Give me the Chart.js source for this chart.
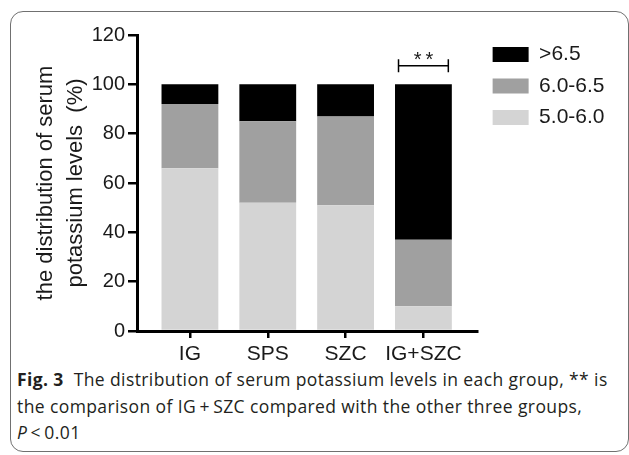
<!DOCTYPE html>
<html>
<head>
<meta charset="utf-8">
<script src="https://cdn.jsdelivr.net/npm/chart.js@4.4.0/dist/chart.umd.min.js"></script>
<style>
  html, body { margin: 0; padding: 0; background: #fff; }
  body { width: 629px; height: 455px; position: relative; overflow: hidden; }
  #frame { position: absolute; left: 10px; top: 11px; width: 617px; height: 439px; border: 1px solid #707070; border-radius: 13px; }
  #wrap { position: absolute; left: 0; top: 0; width: 629px; height: 365px; }
  #caption { position: absolute; left: 17px; top: 366px; font-family: 'Open Sans', sans-serif; font-size: 17.5px; letter-spacing: 0.4px; line-height: 26.5px; color: #231f20; white-space: nowrap; }
</style>
</head>
<body>
<div id="frame"></div>
<div id="wrap"><canvas id="myChart" width="629" height="365"></canvas></div>
<div id="caption"><b>Fig. 3</b>&nbsp; The distribution of serum potassium levels in each group, ** is<br>the comparison of IG&thinsp;+&thinsp;SZC compared with the other three groups,<br><i>P</i>&thinsp;&lt;&thinsp;0.01</div>
<script>
const groups = ['IG', 'SPS', 'SZC', 'IG+SZC'];
const groupPositions = [1, 2, 3, 4];
const level50to60 = [66, 52, 51, 10];
const level60to65 = [26, 33, 36, 27];
const levelAbove65 = [8, 15, 13, 63];
const seriesNames = ['5.0-6.0', '6.0-6.5', '>6.5'];
const sigGroup = 'IG+SZC';
const sigLabel = '**';
const sigLevel = 107.5;

const FONT = "'Liberation Sans', Arial, sans-serif";
const INK = '#1a1a1a';

function points(values) {
    return values.map((v, i) => ({ x: groupPositions[i], y: v }));
}

// corchete de significancia sobre el grupo IG+SZC
const sigBracket = {
    id: 'sigBracket',
    afterDatasetsDraw(chart) {
        const { ctx, scales: { x, y } } = chart;
        const pos = groupPositions[groups.indexOf(sigGroup)];
        const x1 = x.getPixelForValue(pos - 0.32);
        const x2 = x.getPixelForValue(pos + 0.32);
        const yy = y.getPixelForValue(sigLevel);
        ctx.save();
        ctx.strokeStyle = '#000';
        ctx.lineWidth = 1.5;
        ctx.beginPath();
        ctx.moveTo(x1, yy); ctx.lineTo(x2, yy);
        ctx.moveTo(x1, yy - 6.5); ctx.lineTo(x1, yy + 6.5);
        ctx.moveTo(x2, yy - 6.5); ctx.lineTo(x2, yy + 6.5);
        ctx.stroke();
        ctx.fillStyle = INK;
        ctx.font = '20px ' + FONT;
        ctx.letterSpacing = '4px';
        ctx.textAlign = 'center';
        ctx.textBaseline = 'alphabetic';
        ctx.fillText(sigLabel, (x1 + x2) / 2 + 2, yy);
        ctx.restore();
    }
};

// separa un poco la leyenda del area del grafico
const legendGap = {
    id: 'legendGap',
    afterLayout(chart) {
        chart.legend.left += 5;
        chart.legend.right += 5;
        chart.legend.top -= 1.5;
        chart.legend.bottom -= 1.5;
    }
};

const ctx = document.getElementById('myChart').getContext('2d');
const chart = new Chart(ctx, {
    type: 'bar',
    data: {
        datasets: [{
            label: seriesNames[0],
            data: points(level50to60),
            backgroundColor: '#d4d4d4',
            borderWidth: 0
        },
        {
            label: seriesNames[1],
            data: points(level60to65),
            backgroundColor: '#a0a0a0',
            borderWidth: 0
        },
        {
            label: seriesNames[2],
            data: points(levelAbove65),
            backgroundColor: '#000000',
            borderWidth: 0
        }]
    },
    options: {
        responsive: false,
        animation: false,
        datasets: { bar: { categoryPercentage: 1, barPercentage: 0.73 } },
        layout: { padding: { left: 20, top: 35, right: 19.5, bottom: 0 } },
        scales: {
            x: {
                type: 'linear',
                stacked: true,
                min: 0.32,
                max: 4.69,
                offset: false,
                afterBuildTicks: s => { s.ticks = groupPositions.map(v => ({ value: v })); },
                afterFit: s => { s.height = 34; },
                grid: { drawOnChartArea: false, tickLength: 7, color: '#000', lineWidth: 2.5, offset: false },
                border: { display: true, color: '#000', width: 3 },
                ticks: {
                    callback: (v, i) => groups[i],
                    color: INK,
                    font: { family: FONT, size: 21 },
                    padding: 4,
                    maxRotation: 0,
                    autoSkip: false
                }
            },
            y: {
                stacked: true,
                min: 0,
                max: 120,
                afterFit: s => { s.width = 117; },
                grid: { drawOnChartArea: false, tickLength: 9, color: '#000', lineWidth: 2.5 },
                border: { display: true, color: '#000', width: 3 },
                ticks: { stepSize: 20, color: INK, font: { family: FONT, size: 20 }, padding: 3 },
                title: {
                    display: true,
                    text: ['the distribution of serum', 'potassium levels  (%)'],
                    color: INK,
                    font: { family: FONT, size: 22, lineHeight: 1.364 },
                    padding: { top: 11, bottom: 0 }
                }
            }
        },
        plugins: {
            legend: {
                position: 'right',
                align: 'start',
                reverse: true,
                labels: {
                    boxWidth: 36,
                    boxHeight: 15,
                    padding: 10.5,
                    color: INK,
                    font: { family: FONT, size: 21 }
                }
            },
            tooltip: { enabled: false }
        }
    },
    plugins: [sigBracket, legendGap]
});
</script>
</body>
</html>
